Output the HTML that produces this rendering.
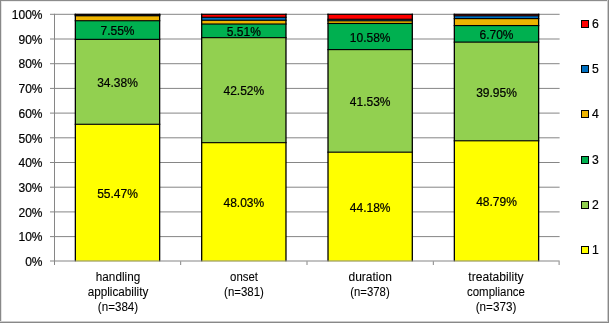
<!DOCTYPE html>
<html><head><meta charset="utf-8"><style>
html,body{margin:0;padding:0;background:#fff;}
#c{will-change:transform;-webkit-text-stroke:0.2px #000;position:relative;width:609px;height:323px;overflow:hidden;font-family:"Liberation Sans", sans-serif;color:#000;background:#fff;}
#c svg{position:absolute;left:0;top:0;}
.dl{position:absolute;width:60px;text-align:center;font-size:12.0px;line-height:14px;white-space:nowrap;}
.yl{position:absolute;left:0;width:42.5px;text-align:right;font-size:12.0px;line-height:14px;white-space:nowrap;}
.cl{-webkit-text-stroke:0.08px #000;position:absolute;width:80px;text-align:center;font-size:12.0px;line-height:14px;white-space:nowrap;}
.lsq{position:absolute;left:581px;width:6px;height:6px;border:1px solid #000;}
.lt{position:absolute;left:592px;font-size:12.2px;line-height:14px;}
.bd{position:absolute;}
</style></head><body><div id="c">
<svg width="609" height="323" viewBox="0 0 609 323">
<rect x="50" y="13.80" width="509.60" height="1" fill="#868686"/>
<rect x="50" y="38.50" width="509.60" height="1" fill="#868686"/>
<rect x="50" y="63.20" width="509.60" height="1" fill="#868686"/>
<rect x="50" y="87.90" width="509.60" height="1" fill="#868686"/>
<rect x="50" y="112.60" width="509.60" height="1" fill="#868686"/>
<rect x="50" y="137.30" width="509.60" height="1" fill="#868686"/>
<rect x="50" y="162.00" width="509.60" height="1" fill="#868686"/>
<rect x="50" y="186.70" width="509.60" height="1" fill="#868686"/>
<rect x="50" y="211.40" width="509.60" height="1" fill="#868686"/>
<rect x="50" y="236.10" width="509.60" height="1" fill="#868686"/>
<rect x="54.0" y="13.80" width="1" height="251.20" fill="#868686"/>
<rect x="180.16" y="261.30" width="1" height="3.70" fill="#868686"/>
<rect x="306.50" y="261.30" width="1" height="3.70" fill="#868686"/>
<rect x="432.82" y="261.30" width="1" height="3.70" fill="#868686"/>
<rect x="558.60" y="261.30" width="1" height="3.70" fill="#868686"/>
<rect x="75.35" y="124.29" width="84.30" height="137.01" fill="#FFFF00"/>
<rect x="75.35" y="39.37" width="84.30" height="84.92" fill="#92D050"/>
<rect x="75.35" y="20.72" width="84.30" height="18.65" fill="#00B050"/>
<rect x="75.35" y="15.78" width="84.30" height="4.94" fill="#EEB400"/>
<rect x="75.35" y="15.04" width="84.30" height="0.74" fill="#0070C0"/>
<rect x="75.35" y="14.30" width="84.30" height="0.74" fill="#FF0000"/>
<rect x="74.70" y="123.71" width="85.60" height="1.15" fill="#000"/>
<rect x="74.70" y="38.80" width="85.60" height="1.15" fill="#000"/>
<rect x="74.70" y="20.15" width="85.60" height="1.15" fill="#000"/>
<rect x="74.70" y="15.21" width="85.60" height="1.15" fill="#000"/>
<rect x="74.70" y="14.47" width="85.60" height="1.15" fill="#000"/>
<rect x="74.70" y="13.73" width="85.60" height="1.15" fill="#000"/>
<rect x="74.70" y="13.73" width="1.3" height="247.57" fill="#000"/>
<rect x="159.00" y="13.73" width="1.3" height="247.57" fill="#000"/>
<rect x="201.68" y="142.67" width="84.30" height="118.63" fill="#FFFF00"/>
<rect x="201.68" y="37.64" width="84.30" height="105.02" fill="#92D050"/>
<rect x="201.68" y="24.03" width="84.30" height="13.61" fill="#00B050"/>
<rect x="201.68" y="20.28" width="84.30" height="3.75" fill="#EEB400"/>
<rect x="201.68" y="17.29" width="84.30" height="2.99" fill="#0070C0"/>
<rect x="201.68" y="14.30" width="84.30" height="2.99" fill="#FF0000"/>
<rect x="201.03" y="142.09" width="85.60" height="1.15" fill="#000"/>
<rect x="201.03" y="37.07" width="85.60" height="1.15" fill="#000"/>
<rect x="201.03" y="23.46" width="85.60" height="1.15" fill="#000"/>
<rect x="201.03" y="19.70" width="85.60" height="1.15" fill="#000"/>
<rect x="201.03" y="16.71" width="85.60" height="1.15" fill="#000"/>
<rect x="201.03" y="13.72" width="85.60" height="1.15" fill="#000"/>
<rect x="201.03" y="13.72" width="1.3" height="247.58" fill="#000"/>
<rect x="285.33" y="13.72" width="1.3" height="247.58" fill="#000"/>
<rect x="328.01" y="152.18" width="84.30" height="109.12" fill="#FFFF00"/>
<rect x="328.01" y="49.60" width="84.30" height="102.58" fill="#92D050"/>
<rect x="328.01" y="23.46" width="84.30" height="26.13" fill="#00B050"/>
<rect x="328.01" y="20.80" width="84.30" height="2.67" fill="#EEB400"/>
<rect x="328.01" y="19.29" width="84.30" height="1.51" fill="#0070C0"/>
<rect x="328.01" y="14.30" width="84.30" height="4.99" fill="#FF0000"/>
<rect x="327.36" y="151.60" width="85.60" height="1.15" fill="#000"/>
<rect x="327.36" y="49.02" width="85.60" height="1.15" fill="#000"/>
<rect x="327.36" y="22.89" width="85.60" height="1.15" fill="#000"/>
<rect x="327.36" y="20.22" width="85.60" height="1.15" fill="#000"/>
<rect x="327.36" y="18.71" width="85.60" height="1.15" fill="#000"/>
<rect x="327.36" y="13.72" width="85.60" height="1.15" fill="#000"/>
<rect x="327.36" y="13.72" width="1.3" height="247.58" fill="#000"/>
<rect x="411.66" y="13.72" width="1.3" height="247.58" fill="#000"/>
<rect x="454.34" y="140.79" width="84.30" height="120.51" fill="#FFFF00"/>
<rect x="454.34" y="42.11" width="84.30" height="98.68" fill="#92D050"/>
<rect x="454.34" y="25.56" width="84.30" height="16.55" fill="#00B050"/>
<rect x="454.34" y="18.60" width="84.30" height="6.97" fill="#EEB400"/>
<rect x="454.34" y="15.78" width="84.30" height="2.82" fill="#0070C0"/>
<rect x="454.34" y="14.30" width="84.30" height="1.48" fill="#FF0000"/>
<rect x="453.69" y="140.21" width="85.60" height="1.15" fill="#000"/>
<rect x="453.69" y="41.54" width="85.60" height="1.15" fill="#000"/>
<rect x="453.69" y="24.99" width="85.60" height="1.15" fill="#000"/>
<rect x="453.69" y="18.02" width="85.60" height="1.15" fill="#000"/>
<rect x="453.69" y="15.21" width="85.60" height="1.15" fill="#000"/>
<rect x="453.69" y="13.72" width="85.60" height="1.15" fill="#000"/>
<rect x="453.69" y="13.72" width="1.3" height="247.58" fill="#000"/>
<rect x="537.99" y="13.72" width="1.3" height="247.58" fill="#000"/>
<rect x="50" y="260.50" width="509.60" height="1" fill="#868686"/>
</svg>
<div class="dl" style="left:87.50px;top:187.09px">55.47%</div>
<div class="dl" style="left:87.50px;top:76.13px">34.38%</div>
<div class="dl" style="left:87.50px;top:24.35px">7.55%</div>
<div class="dl" style="left:213.83px;top:196.28px">48.03%</div>
<div class="dl" style="left:213.83px;top:84.45px">42.52%</div>
<div class="dl" style="left:213.83px;top:25.14px">5.51%</div>
<div class="dl" style="left:340.16px;top:201.04px">44.18%</div>
<div class="dl" style="left:340.16px;top:95.19px">41.53%</div>
<div class="dl" style="left:340.16px;top:30.83px">10.58%</div>
<div class="dl" style="left:466.49px;top:195.34px">48.79%</div>
<div class="dl" style="left:466.49px;top:85.75px">39.95%</div>
<div class="dl" style="left:466.49px;top:28.14px">6.70%</div>
<div class="yl" style="top:255.00px">0%</div>
<div class="yl" style="top:230.30px">10%</div>
<div class="yl" style="top:205.60px">20%</div>
<div class="yl" style="top:180.90px">30%</div>
<div class="yl" style="top:156.20px">40%</div>
<div class="yl" style="top:131.50px">50%</div>
<div class="yl" style="top:106.80px">60%</div>
<div class="yl" style="top:82.10px">70%</div>
<div class="yl" style="top:57.40px">80%</div>
<div class="yl" style="top:32.70px">90%</div>
<div class="yl" style="top:8.00px">100%</div>
<div class="cl" style="left:77.50px;top:269.90px;transform:scaleX(0.9770)">handling</div>
<div class="cl" style="left:77.50px;top:285.10px;transform:scaleX(0.9770)">applicability</div>
<div class="cl" style="left:77.50px;top:300.30px;transform:scaleX(0.9670)">(n=384)</div>
<div class="cl" style="left:203.83px;top:269.90px;transform:scaleX(0.9500)">onset</div>
<div class="cl" style="left:203.83px;top:285.10px;transform:scaleX(0.9550)">(n=381)</div>
<div class="cl" style="left:330.16px;top:269.90px;transform:scaleX(1.0000)">duration</div>
<div class="cl" style="left:330.16px;top:285.10px;transform:scaleX(0.9450)">(n=378)</div>
<div class="cl" style="left:456.49px;top:269.90px;transform:scaleX(1.0100)">treatability</div>
<div class="cl" style="left:456.49px;top:285.10px;transform:scaleX(0.9550)">compliance</div>
<div class="cl" style="left:456.49px;top:300.30px;transform:scaleX(0.9750)">(n=373)</div>
<div class="lsq" style="top:20px;background:#FF0000"></div>
<div class="lt" style="top:16.60px">6</div>
<div class="lsq" style="top:65px;background:#0070C0"></div>
<div class="lt" style="top:61.60px">5</div>
<div class="lsq" style="top:110px;background:#EEB400"></div>
<div class="lt" style="top:106.60px">4</div>
<div class="lsq" style="top:156px;background:#00B050"></div>
<div class="lt" style="top:152.60px">3</div>
<div class="lsq" style="top:201px;background:#92D050"></div>
<div class="lt" style="top:197.60px">2</div>
<div class="lsq" style="top:246px;background:#FFFF00"></div>
<div class="lt" style="top:242.60px">1</div>
<div class="bd" style="left:1px;top:1px;width:606px;height:1px;background:#eeeeee"></div>
<div class="bd" style="left:1px;top:1px;width:1px;height:320px;background:#e4e4e4"></div>
<div class="bd" style="left:0;top:0;width:609px;height:1px;background:#8c8c8c"></div>
<div class="bd" style="left:0;top:0;width:1px;height:323px;background:#888"></div>
<div class="bd" style="left:607px;top:0;width:1px;height:323px;background:#cccccc"></div>
<div class="bd" style="left:608px;top:0;width:1px;height:323px;background:#888888"></div>
<div class="bd" style="left:0;top:321px;width:608px;height:1px;background:#cccccc"></div>
<div class="bd" style="left:0;top:322px;width:609px;height:1px;background:#888888"></div>
</div></body></html>
